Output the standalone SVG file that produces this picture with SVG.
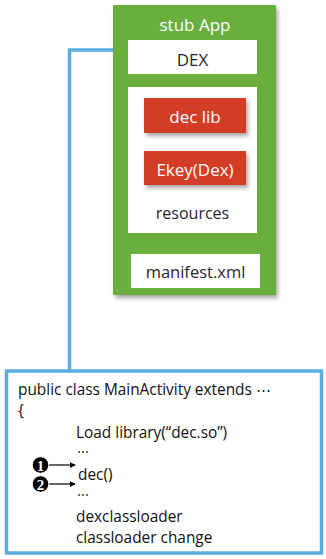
<svg xmlns="http://www.w3.org/2000/svg" width="326" height="559" viewBox="0 0 326 559">
  <style>
    .t { font-family: "Open Sans", "Liberation Sans", Arial, sans-serif; fill: #1f2633; }
    .w { fill: #ffffff; }
    .red { fill: #d33d25; }
    .code { font-family: "Open Sans", "Liberation Sans", Arial, sans-serif; font-size: 15.4px; fill: #111111; }
    .dots { font-family: "Open Sans", "Liberation Sans", Arial, sans-serif; font-size: 12px; fill: #111111; }
    .wire { fill: none; stroke: #5aade0; stroke-width: 3.5; }
    .ptr { stroke: #000000; stroke-width: 1.2; marker-end: url(#tip); }
    .num { font-family: "Liberation Serif", serif; font-weight: bold; font-size: 15px; fill: #ffffff; text-anchor: middle; }
  </style>
  <defs>
    <marker id="tip" viewBox="0 0 8 8" refX="7" refY="4" markerWidth="6" markerHeight="6" orient="auto" markerUnits="userSpaceOnUse">
      <path d="M0,0 L8,4 L0,8 Z" fill="#000000"/>
    </marker>
    <filter id="shadow" x="-10%" y="-10%" width="125%" height="125%">
      <feGaussianBlur in="SourceAlpha" stdDeviation="2"/>
      <feOffset dx="2" dy="3"/>
      <feComponentTransfer><feFuncA type="linear" slope="0.35"/></feComponentTransfer>
      <feMerge><feMergeNode/><feMergeNode in="SourceGraphic"/></feMerge>
    </filter>
  </defs>

  <rect width="326" height="559" fill="#ffffff"/>

  <!-- connectors -->
  <g id="connectors">
    <polyline class="wire" points="140,50 69.5,50 69.5,371"/>
  </g>

  <!-- APK container -->
  <g id="stub-app">
    <rect x="113" y="5" width="163" height="290" fill="#6aae3e" filter="url(#shadow)"/>
    <text class="t" x="195" y="31" font-size="17" text-anchor="middle" style="fill:#ffffff">stub App</text>
  </g>

  <g id="dex">
    <rect class="w" x="128" y="40" width="129" height="34"/>
    <text class="t" x="192.5" y="66" font-size="17" text-anchor="middle">DEX</text>
  </g>

  <g id="payload">
    <rect class="w" x="128" y="87" width="129" height="146"/>
    <text class="t" x="192.5" y="219" font-size="16" text-anchor="middle">resources</text>
  </g>

  <g id="dec-lib">
    <rect class="red" x="144" y="98" width="102" height="35" filter="url(#shadow)"/>
    <text class="t" x="195" y="123" font-size="17" text-anchor="middle" style="fill:#ffffff">dec lib</text>
  </g>

  <g id="ekey">
    <rect class="red" x="144" y="151" width="102" height="34" filter="url(#shadow)"/>
    <text class="t" x="195" y="176" font-size="17" text-anchor="middle" style="fill:#ffffff">Ekey(Dex)</text>
  </g>

  <g id="manifest">
    <rect class="w" x="131" y="254" width="129" height="34"/>
    <text class="t" x="195.5" y="278" font-size="16.5" text-anchor="middle">manifest.xml</text>
  </g>

  <!-- stub source -->
  <g id="main-activity">
    <rect x="6.5" y="371" width="315" height="182" fill="#ffffff" stroke="#5aade0" stroke-width="3.5"/>
    <text class="code" x="18" y="395">public class MainActivity extends ⋯</text>
    <text class="code" x="18" y="416">{</text>
    <text class="code" x="76" y="438">Load library(“dec.so”)</text>
    <text class="dots" x="77" y="456">⋯</text>
    <text class="code" x="78" y="480">dec()</text>
    <text class="dots" x="77" y="499">⋯</text>
    <text class="code" x="76" y="522">dexclassloader</text>
    <text class="code" x="76" y="543">classloader change</text>

    <line class="ptr" x1="48" y1="465" x2="75" y2="465"/>
    <line class="ptr" x1="48" y1="484" x2="75" y2="484"/>
    <circle cx="40.5" cy="465" r="8.3" fill="#000000" stroke="#ffffff" stroke-width="1"/>
    <text class="num" x="40.5" y="470.5">1</text>
    <circle cx="40.5" cy="484" r="8.3" fill="#000000" stroke="#ffffff" stroke-width="1"/>
    <text class="num" x="40.5" y="489.5">2</text>
  </g>
</svg>
